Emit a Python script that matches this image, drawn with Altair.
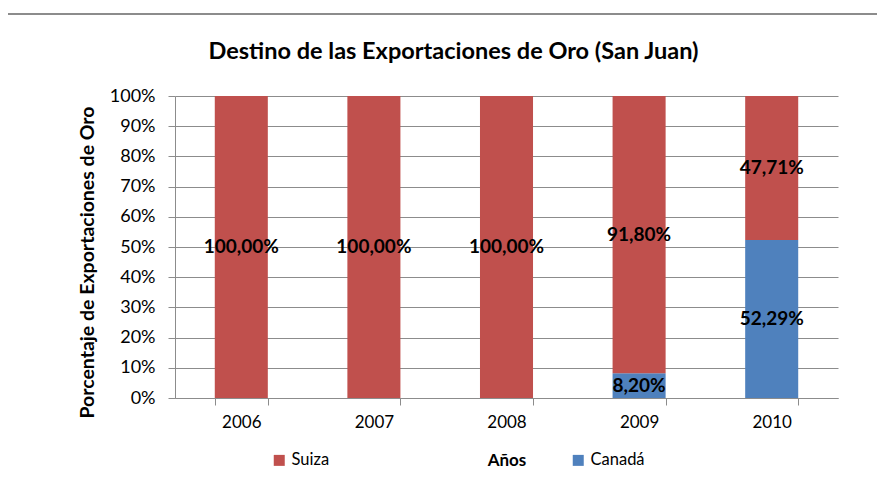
import altair as alt
import pandas as pd

years = ["2006", "2007", "2008", "2009", "2010"]
suiza = [100.00, 100.00, 100.00, 91.80, 47.71]
canada = [0.00, 0.00, 0.00, 8.20, 52.29]
series = ["Suiza", "Canadá"]
colors = ["#C0504D", "#4F81BD"]
y_ticks = [0.0, 0.1, 0.2, 0.3, 0.4, 0.5, 0.6, 0.7, 0.8, 0.9, 1.0]

FONT = "Lato"
GRAY = "#8C8C8C"


def fmt(v):
    return f"{v:.2f}".replace(".", ",") + "%"


rows = []
for i, yr in enumerate(years):
    c = canada[i] / 100
    s = suiza[i] / 100
    rows.append(dict(anio=yr, serie="Canadá", valor=c, orden=0, mid=c / 2, etiqueta=fmt(canada[i])))
    rows.append(dict(anio=yr, serie="Suiza", valor=s, orden=1, mid=c + s / 2, etiqueta=fmt(suiza[i])))
df = pd.DataFrame(rows)
labels_df = df[df["valor"] > 0]

x_scale = alt.Scale(paddingInner=0.6, paddingOuter=0.3)
x_axis = alt.Axis(
    labelAngle=0, tickBand="extent", tickSize=7, labelPadding=9, titlePadding=22,
    grid=False, domainColor=GRAY, tickColor=GRAY, labelFontSize=17,
    titleFontSize=17, titleFontWeight="bold", labelColor="black", titleColor="black",
)
y_scale = alt.Scale(domain=[0, 1])
y_axis = alt.Axis(
    values=y_ticks, format=".0%", title="Porcentaje de Exportaciones de Oro",
    tickSize=7, labelPadding=13, grid=True, gridColor=GRAY, domainColor=GRAY,
    tickColor=GRAY, labelFontSize=18, titleFontSize=19.5, titleFontWeight="bold",
    labelColor="black", titleColor="black", titleX=-78, titleY=166,
    labelOverlap=False,
)

bars = alt.Chart(df).mark_bar().encode(
    x=alt.X("anio:N", title="Años", sort=years, scale=x_scale, axis=x_axis),
    y=alt.Y("valor:Q", stack="zero", scale=y_scale, axis=y_axis),
    color=alt.Color(
        "serie:N",
        scale=alt.Scale(domain=series, range=colors),
        legend=alt.Legend(
            orient="none", legendX=96, legendY=356, direction="horizontal", columns=2,
            title=None, symbolType="square", symbolSize=121, labelFontSize=16.5,
            columnPadding=240, symbolStrokeWidth=0, labelColor="black",
        ),
    ),
    order=alt.Order("orden:Q"),
)

text = alt.Chart(labels_df).mark_text(
    fontWeight="bold", fontSize=19, color="black", baseline="middle", font=FONT
).encode(
    x=alt.X("anio:N", title="Años", sort=years, scale=x_scale, axis=x_axis),
    y=alt.Y("mid:Q", scale=y_scale, axis=y_axis),
    text="etiqueta:N",
)

frame_top = alt.Chart(df).mark_rule(color=GRAY, strokeWidth=1.5).encode(
    x=alt.value(-170), x2=alt.value(710), y=alt.value(-82)
)
frame_left = alt.Chart(df).mark_rule(color=GRAY, strokeWidth=1.5).encode(
    x=alt.value(-170), y=alt.value(-82), y2=alt.value(383)
)

chart = alt.layer(bars, text, frame_top, frame_left).properties(
    width=663,
    height=302,
    title=alt.Title(
        "Destino de las Exportaciones de Oro (San Juan)", fontSize=23.5, fontWeight="bold",
        anchor="middle", frame="group", dx=-53, offset=-69, baseline="alphabetic",
        font=FONT, color="black",
    ),
    autosize=alt.AutoSizeParams(type="none"),
    padding={"left": 167, "top": 88, "right": 39, "bottom": 73},
).configure(font=FONT).configure_view(strokeWidth=0)

chart.save("out.html", embed_options={"renderer": "svg", "actions": False})
